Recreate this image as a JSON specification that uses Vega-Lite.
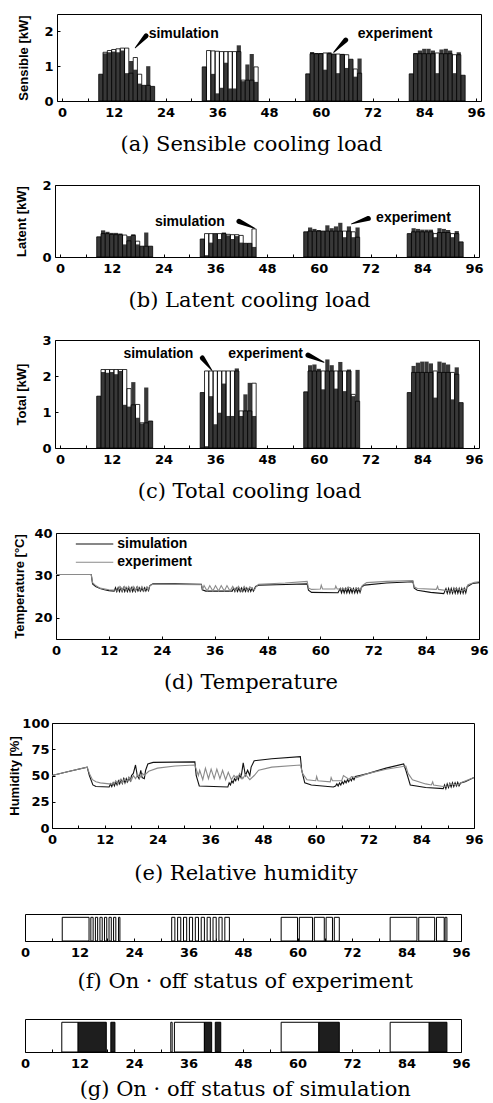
{
"$schema": "https://vega.github.io/schema/vega-lite/v6.json",
"padding": {"left": 8, "top": 13, "right": 0, "bottom": 0},
"bounds": "flush",
"spacing": 171,
"config": {
  "view": {"stroke": "black", "strokeWidth": 1},
  "axis": {"grid": false, "domain": false, "tickSize": -3, "tickColor": "black", "tickWidth": 1, "labelOverlap": false, "labelBound": false, "labelFlush": false,
    "labelFont": "DejaVu Sans", "labelFontWeight": "bold", "labelFontSize": 13, "labelColor": "black",
    "titleFont": "Liberation Sans", "titleFontWeight": "bold", "titleFontSize": 13, "titleColor": "black"},
  "axisQuantitative": {"labelOverlap": false},
  "axisX": {"labelPadding": 8},
  "axisY": {"labelPadding": 7, "labelOverlap": false},
  "title": {"font": "DejaVu Serif", "fontSize": 21, "fontWeight": "normal", "color": "black", "orient": "bottom", "anchor": "middle", "frame": "bounds"}
},
"vconcat": [
 {"hconcat": [
   {"width": 32, "height": 5, "view": {"stroke": null}, "data": {"values": [{"z": 0}]}, "mark": {"type": "point", "opacity": 0}},
   {"width": 424, "height": 87,
    "title": {"text": "(a) Sensible cooling load", "offset": 15},
    "data": {"values": [
      {"h":9,"e":0.77,"s":0.77},{"h":10,"e":1.37,"s":1.40},{"h":11,"e":1.40,"s":1.45},{"h":12,"e":1.42,"s":1.48},{"h":13,"e":1.40,"s":1.50},{"h":14,"e":1.45,"s":1.52},{"h":15,"e":0.80,"s":1.52},{"h":16,"e":1.15,"s":0.80},{"h":17,"e":0.90,"s":1.25},{"h":18,"e":0.50,"s":0.77},{"h":19,"e":0.45,"s":0.45},{"h":20,"e":1.00,"s":0.45},{"h":21,"e":0.42,"s":0.42},
      {"h":33,"e":0.98,"s":0.98},{"h":34,"e":0.02,"s":1.45},{"h":35,"e":0.78,"s":1.44},{"h":36,"e":0.22,"s":1.43},{"h":37,"e":0.38,"s":1.42},{"h":38,"e":1.10,"s":1.42},{"h":39,"e":0.36,"s":1.42},{"h":40,"e":0.36,"s":1.42},{"h":41,"e":1.60,"s":1.42},{"h":42,"e":0.57,"s":0.60},{"h":43,"e":1.05,"s":0.60},{"h":44,"e":1.35,"s":0.60},{"h":45,"e":0.55,"s":0.98},
      {"h":57,"e":0.78,"s":0.78},{"h":58,"e":1.41,"s":1.36},{"h":59,"e":1.38,"s":1.36},{"h":60,"e":1.38,"s":1.36},{"h":61,"e":0.90,"s":1.38},{"h":62,"e":1.40,"s":1.36},{"h":63,"e":1.35,"s":1.35},{"h":64,"e":0.80,"s":1.35},{"h":65,"e":1.35,"s":1.34},{"h":66,"e":0.95,"s":1.33},{"h":67,"e":1.20,"s":1.20},{"h":68,"e":0.70,"s":0.92},{"h":69,"e":1.22,"s":0.80},
      {"h":81,"e":0.78,"s":0.78},{"h":82,"e":1.38,"s":1.36},{"h":83,"e":1.45,"s":1.36},{"h":84,"e":1.50,"s":1.36},{"h":85,"e":1.50,"s":1.36},{"h":86,"e":1.45,"s":1.36},{"h":87,"e":0.80,"s":1.38},{"h":88,"e":1.48,"s":1.36},{"h":89,"e":1.50,"s":1.36},{"h":90,"e":1.45,"s":1.36},{"h":91,"e":0.80,"s":1.33},{"h":92,"e":1.40,"s":1.33},{"h":93,"e":0.74,"s":0.74}
    ]},
    "encoding": {
      "x": {"field": "h", "type": "quantitative", "scale": {"domain": [0, 96], "nice": false}, "axis": {"values": [0,6,12,18,24,30,36,42,48,54,60,66,72,78,84,90,96], "labelExpr": "datum.value % 12 == 0 ? datum.label : ''", "title": null, "labelOverlap": false}},
      "y": {"field": "value", "type": "quantitative", "stack": null, "scale": {"domain": [0, 2.5], "nice": false}, "axis": {"values": [0,1,2], "format": "d", "title": "Sensible [kW]", "titlePadding": 13, "labelOverlap": false}}
    },
    "layer": [
      {"transform": [{"fold": ["e", "s"]}],
       "mark": {"type": "bar", "width": 4.2, "strokeWidth": 0.8},
       "encoding": {
         "fill": {"condition": {"test": "datum.key === 'e'", "value": "#383838"}, "value": "transparent"},
         "stroke": {"condition": {"test": "datum.key === 's'", "value": "#000000"}, "value": "transparent"}}},
      {"data": {"values": [{"h":20.1,"value":1.93,"t":"simulation"},{"h":68.6,"value":1.93,"t":"experiment"}]},
       "mark": {"type": "text", "align": "left", "baseline": "middle", "font": "Liberation Sans", "fontWeight": "bold", "fontSize": 14, "color": "black"},
       "encoding": {"text": {"field": "t"}}},
      {"data": {"values": [{"k":"s","h":17.0,"value":1.53,"p":"tail"},{"k":"s","h":19.5,"value":1.87,"p":"head"},{"k":"e","h":63.0,"value":1.40,"p":"tail"},{"k":"e","h":65.8,"value":1.75,"p":"head"}]},
       "mark": {"type": "trail", "color": "black"},
       "encoding": {"detail": {"field": "k"}, "size": {"field": "p", "type": "ordinal", "scale": {"domain": ["tail", "head"], "range": [1, 5]}, "legend": null}}}
    ]}
  ], "spacing": 0, "bounds": "flush"},
 {"spacing": 155, "bounds": "flush", "vconcat": [
 {"hconcat": [
   {"width": 30, "height": 5, "view": {"stroke": null}, "data": {"values": [{"z": 0}]}, "mark": {"type": "point", "opacity": 0}},
   {"width": 424, "height": 72,
    "title": {"text": "(b) Latent cooling load", "offset": 15},
    "data": {"values": [
      {"h":9,"e":0.56,"s":0.56},{"h":10,"e":0.74,"s":0.65},{"h":11,"e":0.70,"s":0.65},{"h":12,"e":0.67,"s":0.63},{"h":13,"e":0.67,"s":0.62},{"h":14,"e":0.65,"s":0.62},{"h":15,"e":0.35,"s":0.61},{"h":16,"e":0.58,"s":0.45},{"h":17,"e":0.63,"s":0.60},{"h":18,"e":0.35,"s":0.44},{"h":19,"e":0.30,"s":0.30},{"h":20,"e":0.68,"s":0.30},{"h":21,"e":0.30,"s":0.30},
      {"h":33,"e":0.50,"s":0.50},{"h":34,"e":0.05,"s":0.65},{"h":35,"e":0.40,"s":0.65},{"h":36,"e":0.65,"s":0.65},{"h":37,"e":0.50,"s":0.65},{"h":38,"e":0.68,"s":0.65},{"h":39,"e":0.60,"s":0.63},{"h":40,"e":0.50,"s":0.62},{"h":41,"e":0.58,"s":0.62},{"h":42,"e":0.40,"s":0.60},{"h":43,"e":0.38,"s":0.38},{"h":44,"e":0.38,"s":0.38},{"h":45,"e":0.28,"s":0.78},
      {"h":57,"e":0.70,"s":0.70},{"h":58,"e":0.82,"s":0.72},{"h":59,"e":0.78,"s":0.72},{"h":60,"e":0.75,"s":0.72},{"h":61,"e":0.72,"s":0.72},{"h":62,"e":0.88,"s":0.72},{"h":63,"e":0.80,"s":0.72},{"h":64,"e":0.85,"s":0.72},{"h":65,"e":0.95,"s":0.72},{"h":66,"e":0.55,"s":0.72},{"h":67,"e":0.85,"s":0.72},{"h":68,"e":0.55,"s":0.70},{"h":69,"e":0.82,"s":0.55},
      {"h":81,"e":0.65,"s":0.65},{"h":82,"e":0.80,"s":0.70},{"h":83,"e":0.78,"s":0.70},{"h":84,"e":0.76,"s":0.70},{"h":85,"e":0.76,"s":0.70},{"h":86,"e":0.76,"s":0.70},{"h":87,"e":0.55,"s":0.65},{"h":88,"e":0.80,"s":0.68},{"h":89,"e":0.78,"s":0.68},{"h":90,"e":0.75,"s":0.68},{"h":91,"e":0.55,"s":0.65},{"h":92,"e":0.72,"s":0.65},{"h":93,"e":0.42,"s":0.42}
    ]},
    "encoding": {
      "x": {"field": "h", "type": "quantitative", "scale": {"domain": [0, 96], "nice": false}, "axis": {"values": [0,6,12,18,24,30,36,42,48,54,60,66,72,78,84,90,96], "labelExpr": "datum.value % 12 == 0 ? datum.label : ''", "title": null, "labelOverlap": false}},
      "y": {"field": "value", "type": "quantitative", "stack": null, "scale": {"domain": [0, 2], "nice": false}, "axis": {"values": [0,1,2], "format": "d", "title": "Latent [kW]", "titlePadding": 13, "labelOverlap": false}}
    },
    "layer": [
      {"transform": [{"fold": ["e", "s"]}],
       "mark": {"type": "bar", "width": 4.2, "strokeWidth": 0.8},
       "encoding": {
         "fill": {"condition": {"test": "datum.key === 'e'", "value": "#383838"}, "value": "transparent"},
         "stroke": {"condition": {"test": "datum.key === 's'", "value": "#000000"}, "value": "transparent"}}},
      {"data": {"values": [{"h":22.0,"value":0.97,"t":"simulation"},{"h":73.3,"value":1.08,"t":"experiment"}]},
       "mark": {"type": "text", "align": "left", "baseline": "middle", "font": "Liberation Sans", "fontWeight": "bold", "fontSize": 14, "color": "black"},
       "encoding": {"text": {"field": "t"}}},
      {"data": {"values": [{"k":"s","h":45.1,"value":0.80,"p":"tail"},{"k":"s","h":41.5,"value":0.99,"p":"head"},{"k":"e","h":67.6,"value":0.92,"p":"tail"},{"k":"e","h":71.5,"value":1.07,"p":"head"}]},
       "mark": {"type": "trail", "color": "black"},
       "encoding": {"detail": {"field": "k"}, "size": {"field": "p", "type": "ordinal", "scale": {"domain": ["tail", "head"], "range": [1, 5]}, "legend": null}}}
    ]}
  ], "spacing": 0, "bounds": "flush"},
 {"spacing": 193, "bounds": "flush", "vconcat": [
 {"hconcat": [
   {"width": 30, "height": 5, "view": {"stroke": null}, "data": {"values": [{"z": 0}]}, "mark": {"type": "point", "opacity": 0}},
   {"width": 424, "height": 108,
    "title": {"text": "(c) Total cooling load", "offset": 15},
    "data": {"values": [
      {"h":9,"e":1.44,"s":1.44},{"h":10,"e":2.11,"s":2.18},{"h":11,"e":2.09,"s":2.18},{"h":12,"e":2.11,"s":2.18},{"h":13,"e":2.05,"s":2.18},{"h":14,"e":2.14,"s":2.18},{"h":15,"e":1.20,"s":2.18},{"h":16,"e":1.15,"s":1.65},{"h":17,"e":1.83,"s":1.20},{"h":18,"e":0.84,"s":1.21},{"h":19,"e":0.68,"s":0.70},{"h":20,"e":1.68,"s":0.70},{"h":21,"e":0.75,"s":0.75},
      {"h":33,"e":1.54,"s":1.54},{"h":34,"e":0.05,"s":2.14},{"h":35,"e":1.44,"s":2.14},{"h":36,"e":0.66,"s":2.14},{"h":37,"e":0.98,"s":2.14},{"h":38,"e":1.79,"s":2.14},{"h":39,"e":0.89,"s":2.14},{"h":40,"e":0.89,"s":2.14},{"h":41,"e":2.21,"s":2.14},{"h":42,"e":0.89,"s":1.03},{"h":43,"e":1.49,"s":1.03},{"h":44,"e":1.81,"s":1.03},{"h":45,"e":0.89,"s":1.80},
      {"h":57,"e":1.56,"s":1.56},{"h":58,"e":2.30,"s":2.14},{"h":59,"e":2.32,"s":2.14},{"h":60,"e":2.20,"s":2.14},{"h":61,"e":1.63,"s":2.14},{"h":62,"e":2.46,"s":2.14},{"h":63,"e":2.30,"s":2.14},{"h":64,"e":1.65,"s":2.14},{"h":65,"e":2.39,"s":2.14},{"h":66,"e":1.58,"s":2.14},{"h":67,"e":2.18,"s":2.14},{"h":68,"e":1.44,"s":1.49},{"h":69,"e":2.17,"s":1.30},
      {"h":81,"e":1.54,"s":1.54},{"h":82,"e":2.28,"s":2.10},{"h":83,"e":2.37,"s":2.10},{"h":84,"e":2.40,"s":2.10},{"h":85,"e":2.40,"s":2.10},{"h":86,"e":2.35,"s":2.10},{"h":87,"e":1.40,"s":2.14},{"h":88,"e":2.40,"s":2.10},{"h":89,"e":2.37,"s":2.10},{"h":90,"e":2.32,"s":2.10},{"h":91,"e":1.35,"s":2.10},{"h":92,"e":2.24,"s":2.05},{"h":93,"e":1.26,"s":1.26}
    ]},
    "encoding": {
      "x": {"field": "h", "type": "quantitative", "scale": {"domain": [0, 96], "nice": false}, "axis": {"values": [0,6,12,18,24,30,36,42,48,54,60,66,72,78,84,90,96], "labelExpr": "datum.value % 12 == 0 ? datum.label : ''", "title": null, "labelOverlap": false}},
      "y": {"field": "value", "type": "quantitative", "stack": null, "scale": {"domain": [0, 3], "nice": false}, "axis": {"values": [0,1,2,3], "format": "d", "title": "Total [kW]", "titlePadding": 13, "labelOverlap": false}}
    },
    "layer": [
      {"transform": [{"fold": ["e", "s"]}],
       "mark": {"type": "bar", "width": 4.2, "strokeWidth": 0.8},
       "encoding": {
         "fill": {"condition": {"test": "datum.key === 'e'", "value": "#383838"}, "value": "transparent"},
         "stroke": {"condition": {"test": "datum.key === 's'", "value": "#000000"}, "value": "transparent"}}},
      {"data": {"values": [{"h":14.7,"value":2.6,"t":"simulation"},{"h":39.0,"value":2.6,"t":"experiment"}]},
       "mark": {"type": "text", "align": "left", "baseline": "middle", "font": "Liberation Sans", "fontWeight": "bold", "fontSize": 14, "color": "black"},
       "encoding": {"text": {"field": "t"}}},
      {"data": {"values": [{"k":"s","h":35.2,"value":2.16,"p":"tail"},{"k":"s","h":33.0,"value":2.5,"p":"head"},{"k":"e","h":61.2,"value":2.38,"p":"tail"},{"k":"e","h":57.5,"value":2.58,"p":"head"}]},
       "mark": {"type": "trail", "color": "black"},
       "encoding": {"detail": {"field": "k"}, "size": {"field": "p", "type": "ordinal", "scale": {"domain": ["tail", "head"], "range": [1, 5]}, "legend": null}}}
    ]}
  ], "spacing": 0, "bounds": "flush"},
 {"spacing": 190, "bounds": "flush", "vconcat": [
 {"hconcat": [
   {"width": 31, "height": 5, "view": {"stroke": null}, "data": {"values": [{"z": 0}]}, "mark": {"type": "point", "opacity": 0}},
   {"width": 423, "height": 106,
    "title": {"text": "(d) Temperature", "offset": 15},
    "data": {"values": [
      {"h":0,"v":30.2,"k":"s"},{"h":8,"v":30.2,"k":"s"},{"h":8.3,"v":28.0,"k":"s"},{"h":9,"v":27.4,"k":"s"},{"h":10,"v":26.9,"k":"s"},{"h":11,"v":26.6,"k":"s"},{"h":12,"v":26.4,"k":"s"},{"h":13.2,"v":26.3,"k":"s"},
      {"h":13.5,"v":27.1,"k":"s"},{"h":13.8,"v":26.2,"k":"s"},{"h":14.1,"v":27.1,"k":"s"},{"h":14.4,"v":26.2,"k":"s"},{"h":14.7,"v":27.1,"k":"s"},{"h":15.0,"v":26.2,"k":"s"},{"h":15.3,"v":27.1,"k":"s"},{"h":15.6,"v":26.2,"k":"s"},{"h":15.9,"v":27.1,"k":"s"},{"h":16.2,"v":26.2,"k":"s"},{"h":16.5,"v":27.1,"k":"s"},{"h":16.8,"v":26.2,"k":"s"},{"h":17.1,"v":27.1,"k":"s"},{"h":17.4,"v":26.2,"k":"s"},{"h":17.7,"v":27.1,"k":"s"},{"h":18.0,"v":26.2,"k":"s"},{"h":18.3,"v":27.1,"k":"s"},{"h":18.6,"v":26.3,"k":"s"},{"h":18.9,"v":27.1,"k":"s"},{"h":19.2,"v":26.3,"k":"s"},{"h":19.5,"v":27.1,"k":"s"},{"h":19.8,"v":26.3,"k":"s"},{"h":20.1,"v":27.1,"k":"s"},{"h":20.4,"v":26.3,"k":"s"},{"h":20.7,"v":27.1,"k":"s"},{"h":21.0,"v":26.4,"k":"s"},
      {"h":21.3,"v":27.6,"k":"s"},{"h":22,"v":28.0,"k":"s"},{"h":27,"v":28.0,"k":"s"},{"h":33,"v":27.9,"k":"s"},{"h":33.2,"v":26.6,"k":"s"},{"h":34,"v":26.3,"k":"s"},{"h":40,"v":26.3,"k":"s"},
      {"h":40.3,"v":27.0,"k":"s"},{"h":40.6,"v":26.2,"k":"s"},{"h":40.9,"v":27.0,"k":"s"},{"h":41.2,"v":26.2,"k":"s"},{"h":41.5,"v":27.0,"k":"s"},{"h":41.8,"v":26.2,"k":"s"},{"h":42.1,"v":27.0,"k":"s"},{"h":42.4,"v":26.2,"k":"s"},{"h":42.7,"v":27.0,"k":"s"},{"h":43.0,"v":26.2,"k":"s"},{"h":43.3,"v":27.0,"k":"s"},{"h":43.6,"v":26.2,"k":"s"},{"h":43.9,"v":27.0,"k":"s"},{"h":44.2,"v":26.2,"k":"s"},{"h":44.5,"v":27.0,"k":"s"},{"h":44.8,"v":26.3,"k":"s"},
      {"h":45.3,"v":27.4,"k":"s"},{"h":46,"v":27.7,"k":"s"},{"h":50,"v":27.8,"k":"s"},{"h":57,"v":28.0,"k":"s"},{"h":57.3,"v":26.5,"k":"s"},{"h":58,"v":26.0,"k":"s"},{"h":64,"v":25.9,"k":"s"},
      {"h":64.5,"v":26.9,"k":"s"},{"h":64.8,"v":25.9,"k":"s"},{"h":65.1,"v":26.9,"k":"s"},{"h":65.4,"v":25.9,"k":"s"},{"h":65.7,"v":26.9,"k":"s"},{"h":66.0,"v":25.9,"k":"s"},{"h":66.3,"v":26.9,"k":"s"},{"h":66.6,"v":25.9,"k":"s"},{"h":66.9,"v":26.9,"k":"s"},{"h":67.2,"v":25.9,"k":"s"},{"h":67.5,"v":26.9,"k":"s"},{"h":67.8,"v":25.9,"k":"s"},{"h":68.1,"v":26.9,"k":"s"},{"h":68.4,"v":25.9,"k":"s"},{"h":68.7,"v":26.9,"k":"s"},{"h":69.0,"v":26.0,"k":"s"},
      {"h":69.3,"v":27.2,"k":"s"},{"h":70,"v":27.7,"k":"s"},{"h":75,"v":28.2,"k":"s"},{"h":81,"v":28.5,"k":"s"},{"h":81.3,"v":27.0,"k":"s"},{"h":82,"v":26.5,"k":"s"},{"h":85,"v":26.0,"k":"s"},{"h":88,"v":25.7,"k":"s"},
      {"h":88.5,"v":26.9,"k":"s"},{"h":88.8,"v":25.8,"k":"s"},{"h":89.1,"v":26.9,"k":"s"},{"h":89.4,"v":25.8,"k":"s"},{"h":89.7,"v":26.9,"k":"s"},{"h":90.0,"v":25.8,"k":"s"},{"h":90.3,"v":26.9,"k":"s"},{"h":90.6,"v":25.8,"k":"s"},{"h":90.9,"v":26.9,"k":"s"},{"h":91.2,"v":25.8,"k":"s"},{"h":91.5,"v":26.9,"k":"s"},{"h":91.8,"v":25.8,"k":"s"},{"h":92.1,"v":26.9,"k":"s"},{"h":92.4,"v":25.8,"k":"s"},{"h":92.7,"v":26.9,"k":"s"},{"h":93.0,"v":25.9,"k":"s"},
      {"h":93.3,"v":27.3,"k":"s"},{"h":94.5,"v":28.1,"k":"s"},{"h":96,"v":28.3,"k":"s"},
      {"h":0,"v":30.2,"k":"e"},{"h":8,"v":30.2,"k":"e"},{"h":8.3,"v":28.3,"k":"e"},{"h":9,"v":27.6,"k":"e"},{"h":10,"v":27.0,"k":"e"},{"h":12,"v":26.6,"k":"e"},{"h":14.1,"v":26.5,"k":"e"},
      {"h":14.5,"v":27.4,"k":"e"},{"h":15.0,"v":26.4,"k":"e"},{"h":15.5,"v":27.4,"k":"e"},{"h":16.0,"v":26.4,"k":"e"},{"h":16.5,"v":27.4,"k":"e"},{"h":17.0,"v":26.4,"k":"e"},{"h":17.5,"v":27.4,"k":"e"},{"h":18.0,"v":26.4,"k":"e"},{"h":18.5,"v":27.4,"k":"e"},{"h":19.0,"v":26.4,"k":"e"},{"h":19.5,"v":27.4,"k":"e"},{"h":20.0,"v":26.4,"k":"e"},{"h":20.6,"v":27.3,"k":"e"},{"h":20.9,"v":26.6,"k":"e"},
      {"h":21.3,"v":27.6,"k":"e"},{"h":22,"v":27.9,"k":"e"},{"h":33,"v":27.8,"k":"e"},{"h":33.3,"v":26.8,"k":"e"},{"h":33.6,"v":27.6,"k":"e"},{"h":34.3,"v":26.3,"k":"e"},{"h":34.9,"v":27.6,"k":"e"},{"h":35.6,"v":26.3,"k":"e"},{"h":36.2,"v":27.6,"k":"e"},{"h":36.9,"v":26.3,"k":"e"},{"h":37.5,"v":27.6,"k":"e"},{"h":38.2,"v":26.3,"k":"e"},{"h":38.8,"v":27.6,"k":"e"},{"h":39.5,"v":26.3,"k":"e"},{"h":40.1,"v":27.4,"k":"e"},{"h":40.8,"v":26.3,"k":"e"},{"h":41.4,"v":27.4,"k":"e"},{"h":42.1,"v":26.3,"k":"e"},{"h":42.7,"v":27.4,"k":"e"},{"h":43.4,"v":26.3,"k":"e"},{"h":44.0,"v":27.3,"k":"e"},{"h":45.0,"v":26.5,"k":"e"},
      {"h":45.5,"v":27.5,"k":"e"},{"h":46,"v":27.9,"k":"e"},{"h":52,"v":28.2,"k":"e"},{"h":57,"v":28.6,"k":"e"},{"h":57.3,"v":27.0,"k":"e"},{"h":58,"v":26.7,"k":"e"},{"h":60,"v":26.8,"k":"e"},{"h":60.2,"v":27.7,"k":"e"},{"h":60.5,"v":26.8,"k":"e"},{"h":63.3,"v":26.8,"k":"e"},{"h":63.5,"v":27.5,"k":"e"},{"h":63.8,"v":26.8,"k":"e"},{"h":65.9,"v":26.8,"k":"e"},{"h":66.3,"v":27.3,"k":"e"},{"h":67.7,"v":26.5,"k":"e"},{"h":68.1,"v":27.1,"k":"e"},{"h":69.2,"v":26.5,"k":"e"},
      {"h":69.5,"v":27.6,"k":"e"},{"h":70.5,"v":28.3,"k":"e"},{"h":75,"v":28.6,"k":"e"},{"h":81,"v":28.8,"k":"e"},{"h":81.3,"v":27.3,"k":"e"},{"h":82,"v":26.9,"k":"e"},{"h":86.3,"v":26.7,"k":"e"},{"h":86.6,"v":27.4,"k":"e"},{"h":86.8,"v":26.7,"k":"e"},{"h":90.2,"v":26.2,"k":"e"},{"h":90.5,"v":27.0,"k":"e"},{"h":92.3,"v":26.3,"k":"e"},{"h":92.5,"v":26.9,"k":"e"},{"h":92.9,"v":26.5,"k":"e"},{"h":93.5,"v":27.8,"k":"e"},{"h":95,"v":28.4,"k":"e"},{"h":96,"v":28.5,"k":"e"}
    ]},
    "layer": [
      {"mark": {"type": "line", "strokeWidth": 1.1},
       "encoding": {
         "x": {"field": "h", "type": "quantitative", "scale": {"domain": [0, 96], "nice": false}, "axis": {"values": [0,6,12,18,24,30,36,42,48,54,60,66,72,78,84,90,96], "labelExpr": "datum.value % 12 == 0 ? datum.label : ''", "title": null}},
         "y": {"field": "v", "type": "quantitative", "scale": {"domain": [15, 40], "nice": false, "zero": false}, "axis": {"values": [20,30,40], "format": "d", "title": "Temperature [°C]", "titlePadding": 7}},
         "color": {"field": "k", "type": "nominal", "scale": {"domain": ["s", "e"], "range": ["#111111", "#8a8a8a"]}, "legend": null}}},
      {"data": {"values": [{"h":4.5,"h2":13,"v":37.4,"k":"s","t":"simulation"},{"h":4.5,"h2":13,"v":33.1,"k":"e","t":"experiment"}]},
       "layer": [
         {"mark": {"type": "rule", "strokeWidth": 1.1},
          "encoding": {"x": {"field": "h", "type": "quantitative", "title": null}, "x2": {"field": "h2"}, "y": {"field": "v", "type": "quantitative", "title": "Temperature [°C]"}, "color": {"field": "k", "type": "nominal", "legend": null}}},
         {"mark": {"type": "text", "align": "left", "baseline": "middle", "dx": 4, "font": "Liberation Sans", "fontWeight": "bold", "fontSize": 14, "color": "black"},
          "encoding": {"x": {"field": "h2", "type": "quantitative", "title": null}, "y": {"field": "v", "type": "quantitative", "title": "Temperature [°C]"}, "text": {"field": "t"}}}
       ]}
    ]}
  ], "spacing": 0, "bounds": "flush"},
 {"spacing": 191, "bounds": "flush", "vconcat": [
 {"hconcat": [
   {"width": 27, "height": 5, "view": {"stroke": null}, "data": {"values": [{"z": 0}]}, "mark": {"type": "point", "opacity": 0}},
   {"width": 422, "height": 105,
    "title": {"text": "(e) Relative humidity", "offset": 17},
    "data": {"values": [
      {"h":0,"v":50,"k":"s"},{"h":4,"v":54,"k":"s"},{"h":8,"v":58,"k":"s"},{"h":8.5,"v":50,"k":"s"},{"h":9.3,"v":41,"k":"s"},{"h":10,"v":39.5,"k":"s"},{"h":13,"v":39,"k":"s"},
      {"h":13.3,"v":42,"k":"s"},{"h":13.6,"v":39.5,"k":"s"},{"h":13.9,"v":43,"k":"s"},{"h":14.2,"v":40,"k":"s"},{"h":14.5,"v":44,"k":"s"},{"h":14.8,"v":41,"k":"s"},{"h":15.1,"v":45,"k":"s"},{"h":15.4,"v":42,"k":"s"},{"h":15.7,"v":46,"k":"s"},{"h":16,"v":42.5,"k":"s"},{"h":16.3,"v":47,"k":"s"},{"h":16.6,"v":43,"k":"s"},{"h":16.9,"v":47,"k":"s"},{"h":17.2,"v":44,"k":"s"},{"h":17.5,"v":48,"k":"s"},{"h":17.8,"v":45,"k":"s"},{"h":18.1,"v":50,"k":"s"},{"h":18.5,"v":52,"k":"s"},{"h":19,"v":60,"k":"s"},{"h":19.4,"v":50,"k":"s"},{"h":19.8,"v":47,"k":"s"},{"h":20.2,"v":55,"k":"s"},{"h":20.5,"v":48,"k":"s"},{"h":21,"v":47,"k":"s"},
      {"h":21.3,"v":55,"k":"s"},{"h":21.8,"v":61,"k":"s"},{"h":23,"v":62.5,"k":"s"},{"h":32.5,"v":63,"k":"s"},{"h":32.8,"v":50,"k":"s"},{"h":33.5,"v":40,"k":"s"},{"h":40,"v":39,"k":"s"},
      {"h":40.3,"v":43,"k":"s"},{"h":40.6,"v":41,"k":"s"},{"h":40.9,"v":45,"k":"s"},{"h":41.2,"v":43,"k":"s"},{"h":41.5,"v":47,"k":"s"},{"h":41.8,"v":45,"k":"s"},{"h":42.1,"v":49,"k":"s"},{"h":42.4,"v":46,"k":"s"},{"h":42.7,"v":51,"k":"s"},{"h":43,"v":48,"k":"s"},{"h":43.5,"v":62,"k":"s"},{"h":44,"v":50,"k":"s"},{"h":44.5,"v":55,"k":"s"},{"h":45,"v":50,"k":"s"},
      {"h":45.3,"v":58,"k":"s"},{"h":46,"v":64,"k":"s"},{"h":50,"v":66,"k":"s"},{"h":56.5,"v":68,"k":"s"},{"h":56.8,"v":55,"k":"s"},{"h":57.5,"v":43,"k":"s"},{"h":59,"v":41,"k":"s"},{"h":64,"v":39,"k":"s"},
      {"h":64.5,"v":40,"k":"s"},{"h":64.8,"v":42,"k":"s"},{"h":65.1,"v":40,"k":"s"},{"h":65.4,"v":43,"k":"s"},{"h":65.7,"v":41,"k":"s"},{"h":66,"v":44,"k":"s"},{"h":66.3,"v":42,"k":"s"},{"h":66.6,"v":45,"k":"s"},{"h":66.9,"v":43,"k":"s"},{"h":67.2,"v":46,"k":"s"},{"h":67.5,"v":44,"k":"s"},{"h":67.8,"v":47,"k":"s"},{"h":68.1,"v":45,"k":"s"},{"h":68.4,"v":48,"k":"s"},{"h":68.7,"v":46,"k":"s"},{"h":69,"v":49,"k":"s"},
      {"h":70,"v":50,"k":"s"},{"h":72,"v":52,"k":"s"},{"h":76,"v":57,"k":"s"},{"h":80,"v":61,"k":"s"},{"h":80.5,"v":55,"k":"s"},{"h":81.5,"v":41,"k":"s"},{"h":85,"v":38.5,"k":"s"},{"h":89,"v":37.5,"k":"s"},
      {"h":89.3,"v":41,"k":"s"},{"h":89.6,"v":37.5,"k":"s"},{"h":89.9,"v":42,"k":"s"},{"h":90.2,"v":38.5,"k":"s"},{"h":90.5,"v":42.5,"k":"s"},{"h":90.8,"v":39,"k":"s"},{"h":91.1,"v":43,"k":"s"},{"h":91.4,"v":39.5,"k":"s"},{"h":91.7,"v":43,"k":"s"},{"h":92,"v":40,"k":"s"},{"h":92.3,"v":43.5,"k":"s"},{"h":92.6,"v":40,"k":"s"},{"h":93,"v":43,"k":"s"},{"h":94,"v":44,"k":"s"},{"h":96,"v":48,"k":"s"},
      {"h":0,"v":50,"k":"e"},{"h":4,"v":54,"k":"e"},{"h":8,"v":58,"k":"e"},{"h":8.5,"v":52,"k":"e"},{"h":9.2,"v":46,"k":"e"},{"h":10,"v":44,"k":"e"},{"h":11,"v":43,"k":"e"},{"h":13,"v":42,"k":"e"},{"h":14.1,"v":42,"k":"e"},
      {"h":14.5,"v":45,"k":"e"},{"h":15,"v":42,"k":"e"},{"h":15.5,"v":46,"k":"e"},{"h":16,"v":43,"k":"e"},{"h":16.5,"v":47,"k":"e"},{"h":17,"v":44,"k":"e"},{"h":17.5,"v":48,"k":"e"},{"h":18,"v":45,"k":"e"},{"h":18.5,"v":50,"k":"e"},{"h":19,"v":47,"k":"e"},{"h":19.5,"v":51,"k":"e"},{"h":20,"v":48,"k":"e"},{"h":20.6,"v":52,"k":"e"},{"h":21,"v":50,"k":"e"},
      {"h":22,"v":54,"k":"e"},{"h":24,"v":57,"k":"e"},{"h":28,"v":59,"k":"e"},{"h":32.5,"v":60,"k":"e"},{"h":32.8,"v":56,"k":"e"},{"h":33.3,"v":50,"k":"e"},{"h":33.6,"v":55,"k":"e"},{"h":34.3,"v":46,"k":"e"},{"h":34.9,"v":57,"k":"e"},{"h":35.6,"v":47,"k":"e"},{"h":36.2,"v":56,"k":"e"},{"h":36.9,"v":47,"k":"e"},{"h":37.5,"v":56,"k":"e"},{"h":38.2,"v":47,"k":"e"},{"h":38.8,"v":55,"k":"e"},{"h":39.5,"v":46,"k":"e"},{"h":40.1,"v":53,"k":"e"},{"h":40.8,"v":46,"k":"e"},{"h":41.4,"v":50,"k":"e"},{"h":42.1,"v":47,"k":"e"},{"h":42.7,"v":52,"k":"e"},{"h":43.4,"v":47,"k":"e"},{"h":44,"v":51,"k":"e"},{"h":45,"v":46,"k":"e"},
      {"h":46,"v":50,"k":"e"},{"h":47,"v":55,"k":"e"},{"h":50,"v":58,"k":"e"},{"h":56.5,"v":60,"k":"e"},{"h":57,"v":52,"k":"e"},{"h":58,"v":46,"k":"e"},{"h":60,"v":45,"k":"e"},{"h":60.2,"v":49,"k":"e"},{"h":60.5,"v":45,"k":"e"},{"h":63.3,"v":44,"k":"e"},{"h":63.5,"v":48,"k":"e"},{"h":63.8,"v":45,"k":"e"},{"h":65.9,"v":45,"k":"e"},{"h":66.3,"v":50,"k":"e"},{"h":67.7,"v":46,"k":"e"},{"h":68.1,"v":49,"k":"e"},{"h":69.2,"v":48,"k":"e"},
      {"h":72,"v":52,"k":"e"},{"h":76,"v":56,"k":"e"},{"h":80.5,"v":59,"k":"e"},{"h":81,"v":52,"k":"e"},{"h":82,"v":46,"k":"e"},{"h":85,"v":42,"k":"e"},{"h":86.3,"v":41,"k":"e"},{"h":86.6,"v":44,"k":"e"},{"h":86.8,"v":41,"k":"e"},{"h":89,"v":39.5,"k":"e"},{"h":90.2,"v":40,"k":"e"},{"h":90.5,"v":42,"k":"e"},{"h":92.3,"v":41,"k":"e"},{"h":93,"v":43,"k":"e"},{"h":96,"v":48,"k":"e"}
    ]},
    "mark": {"type": "line", "strokeWidth": 1.1},
    "encoding": {
      "x": {"field": "h", "type": "quantitative", "scale": {"domain": [0, 96], "nice": false}, "axis": {"values": [0,6,12,18,24,30,36,42,48,54,60,66,72,78,84,90,96], "labelExpr": "datum.value % 12 == 0 ? datum.label : ''", "title": null}},
      "y": {"field": "v", "type": "quantitative", "scale": {"domain": [0, 100], "nice": false}, "axis": {"values": [0,25,50,75,100], "title": "Humidity [%]", "titlePadding": 0, "labelPadding": 6}},
      "color": {"field": "k", "type": "nominal", "scale": {"domain": ["s", "e"], "range": ["#111111", "#8a8a8a"]}, "legend": null}}}
  ], "spacing": 0, "bounds": "flush"},
 {"vconcat": [
   {"width": 436, "height": 27,
    "title": {"text": "(f) On · off status of experiment", "offset": 12},
    "data": {"values": [
      {"a":8.2,"b":14.1,"t":"on"},{"a":14.5,"b":15.0,"t":"on"},{"a":15.5,"b":16.0,"t":"on"},{"a":16.5,"b":17.0,"t":"on"},{"a":17.5,"b":18.0,"t":"on"},{"a":18.5,"b":19.0,"t":"on"},{"a":19.5,"b":20.0,"t":"on"},{"a":20.6,"b":20.9,"t":"on"},
      {"a":32.3,"b":33.0,"t":"on"},{"a":33.6,"b":34.3,"t":"on"},{"a":34.9,"b":35.6,"t":"on"},{"a":36.2,"b":36.9,"t":"on"},{"a":37.5,"b":38.2,"t":"on"},{"a":38.8,"b":39.5,"t":"on"},{"a":40.1,"b":40.8,"t":"on"},{"a":41.4,"b":42.1,"t":"on"},{"a":42.7,"b":43.4,"t":"on"},{"a":44.0,"b":45.0,"t":"on"},
      {"a":56.4,"b":60.0,"t":"on"},{"a":60.4,"b":63.3,"t":"on"},{"a":63.7,"b":65.9,"t":"on"},{"a":66.3,"b":67.7,"t":"on"},{"a":68.1,"b":69.2,"t":"on"},
      {"a":80.4,"b":86.3,"t":"on"},{"a":86.7,"b":90.2,"t":"on"},{"a":90.6,"b":92.3,"t":"on"},{"a":92.5,"b":92.9,"t":"on"}
    ]},
    "mark": {"type": "rect", "stroke": "black", "strokeWidth": 1},
    "encoding": {
      "x": {"field": "a", "type": "quantitative", "scale": {"domain": [0, 96], "nice": false}, "axis": {"values": [0,6,12,18,24,30,36,42,48,54,60,66,72,78,84,90,96], "labelExpr": "datum.value % 12 == 0 ? datum.label : ''", "title": null}},
      "x2": {"field": "b"},
      "y": {"datum": 0, "type": "quantitative", "scale": {"domain": [0, 1.14], "nice": false}, "axis": null},
      "y2": {"datum": 1},
      "fill": {"condition": {"test": "datum.t === 'dense'", "value": "#1e1e1e"}, "value": "#ffffff"}}},
   {"width": 436, "height": 33,
    "title": {"text": "(g) On · off status of simulation", "offset": 9},
    "data": {"values": [
      {"a":8.1,"b":11.7,"t":"on"},{"a":11.7,"b":17.9,"t":"dense"},{"a":18.9,"b":19.8,"t":"dense"},
      {"a":32.1,"b":32.4,"t":"on"},{"a":32.9,"b":39.5,"t":"on"},{"a":39.5,"b":41.1,"t":"dense"},{"a":41.9,"b":43.1,"t":"dense"},
      {"a":56.4,"b":64.7,"t":"on"},{"a":64.7,"b":69.2,"t":"dense"},
      {"a":80.4,"b":89.0,"t":"on"},{"a":89.0,"b":92.9,"t":"dense"}
    ]},
    "mark": {"type": "rect", "stroke": "black", "strokeWidth": 1},
    "encoding": {
      "x": {"field": "a", "type": "quantitative", "scale": {"domain": [0, 96], "nice": false}, "axis": {"values": [0,6,12,18,24,30,36,42,48,54,60,66,72,78,84,90,96], "labelExpr": "datum.value % 12 == 0 ? datum.label : ''", "title": null}},
      "x2": {"field": "b"},
      "y": {"datum": 0, "type": "quantitative", "scale": {"domain": [0, 1.11], "nice": false}, "axis": null},
      "y2": {"datum": 1},
      "fill": {"condition": {"test": "datum.t === 'dense'", "value": "#1e1e1e"}, "value": "#ffffff"}}}
  ], "spacing": 78, "bounds": "flush"}
 ]}
 ]}
 ]}
 ]}
]
}
